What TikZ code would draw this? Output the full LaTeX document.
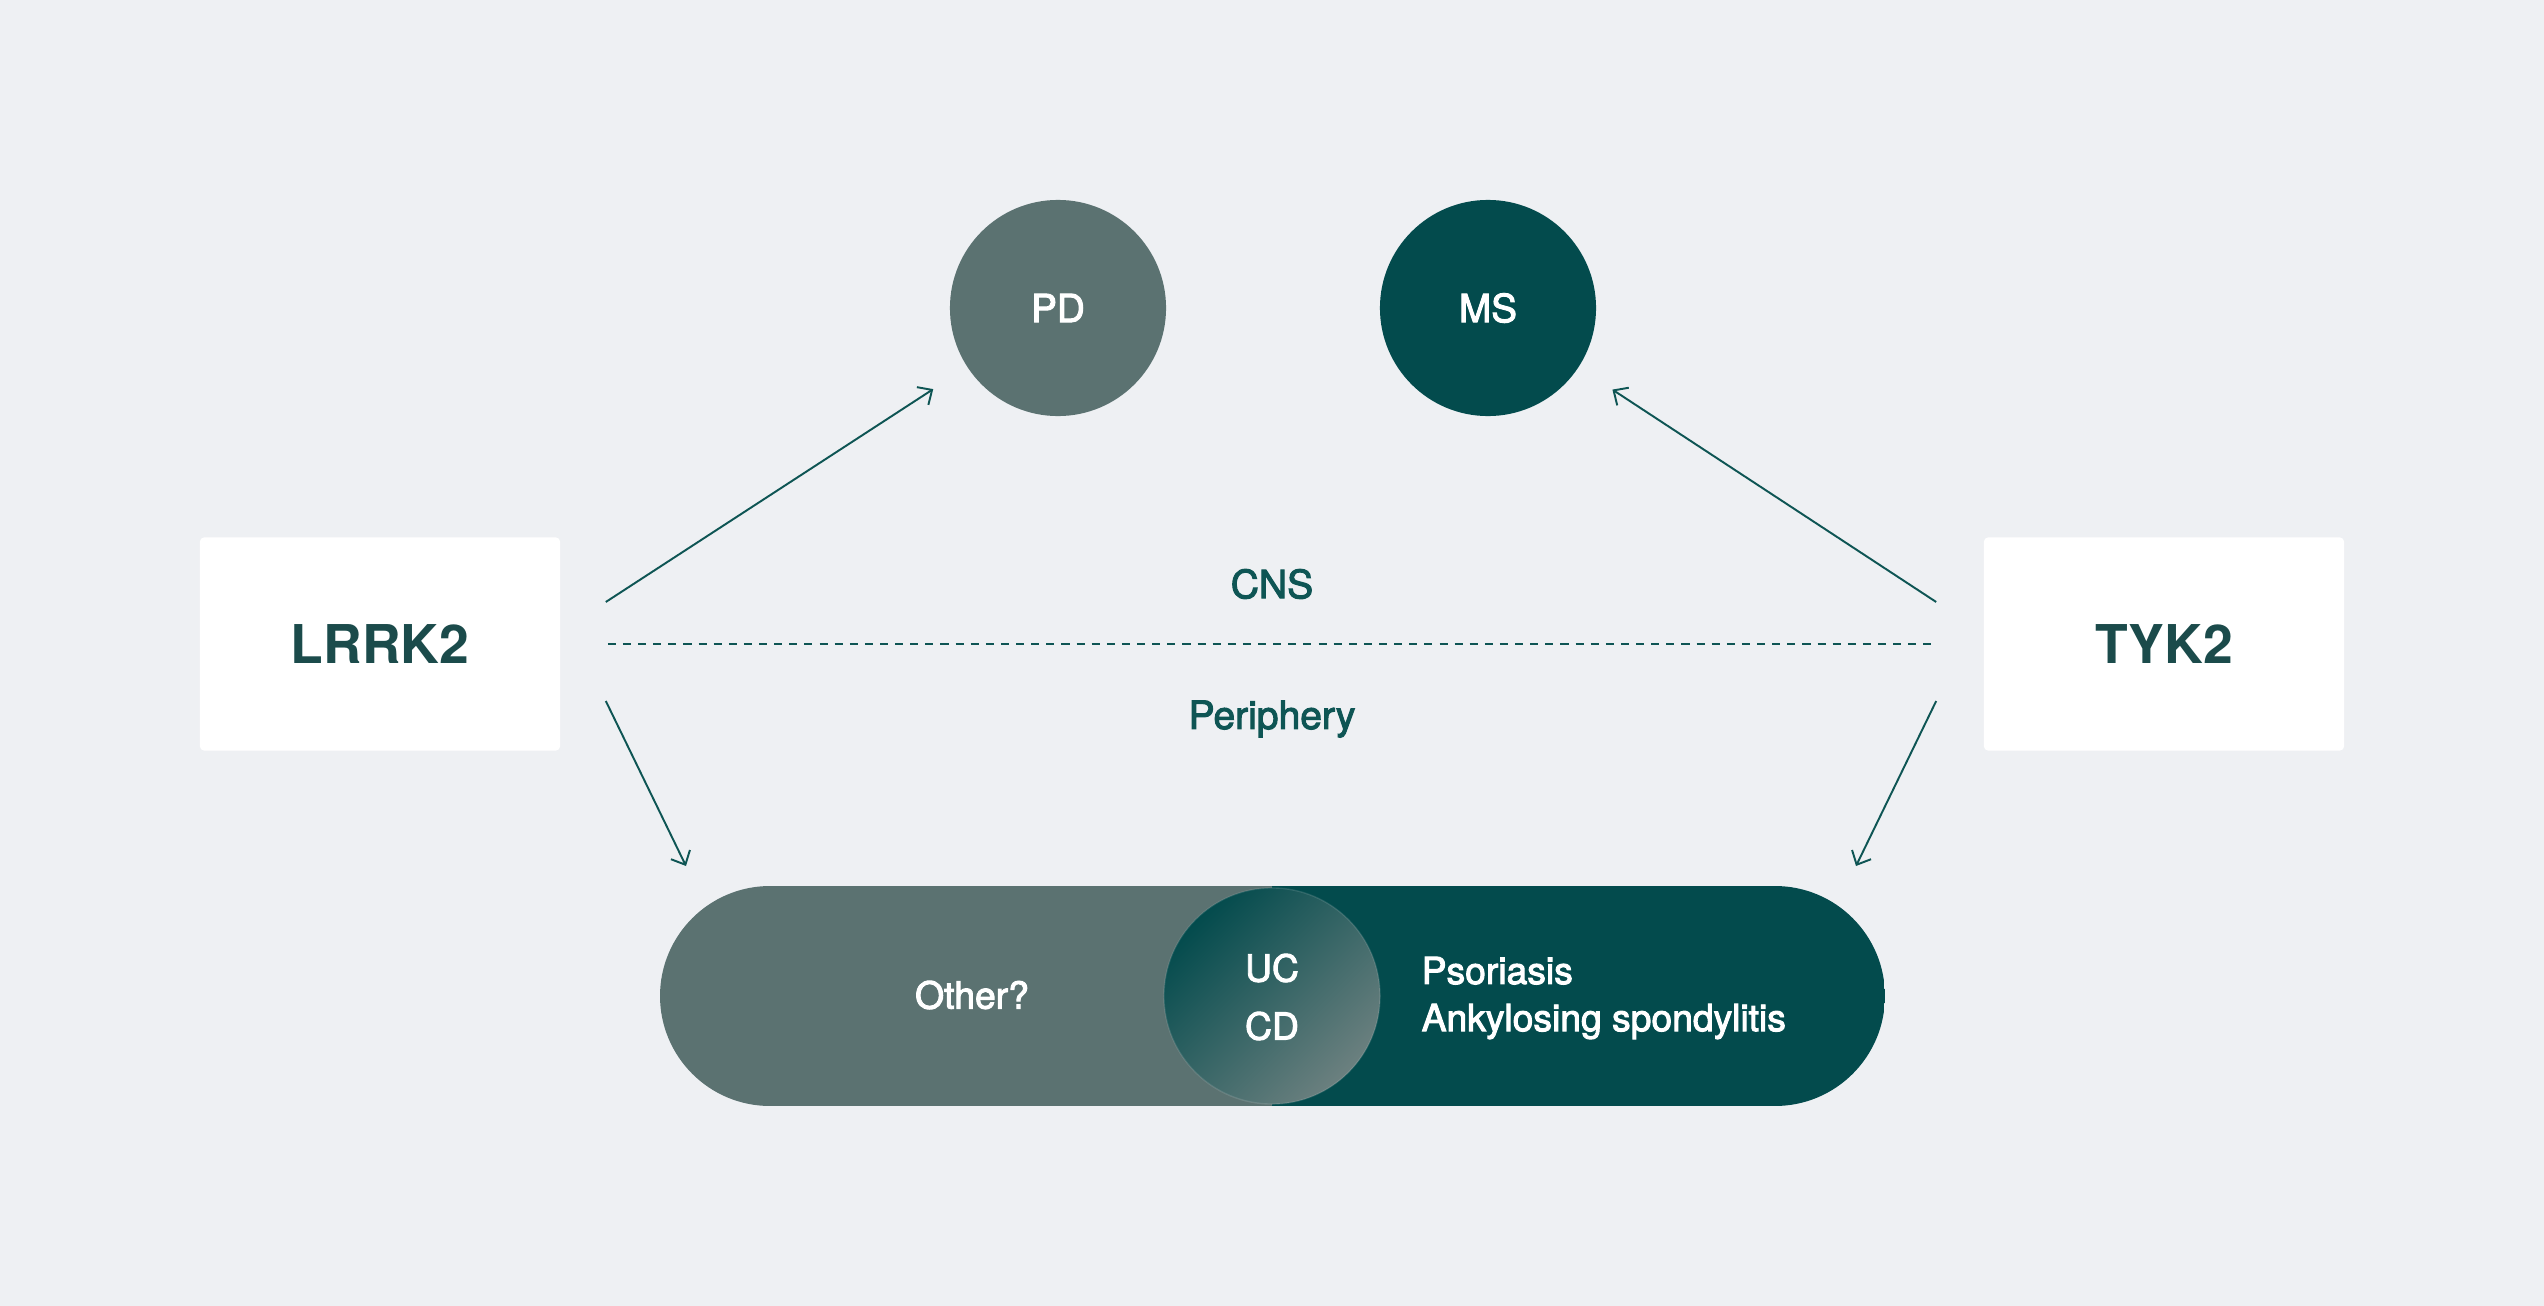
\documentclass[tikz,border=0pt]{standalone}
\usepackage{fontspec}
\setmainfont{TeX Gyre Heros}
\newfontfamily\midfont{TeX Gyre Heros}[FakeBold=2.6]
\usepackage{tikz}
\usetikzlibrary{calc,arrows.meta}
\definecolor{pagebg}{HTML}{EEF0F3}
\definecolor{slate}{HTML}{5B7271}
\definecolor{deepteal}{HTML}{034B4D}
\definecolor{inkteal}{HTML}{1B4B4B}
\definecolor{lineteal}{HTML}{0E5554}
\tikzset{gene/.style={fill=white,rounded corners=1.2pt,minimum width=3.6cm,minimum height=2.13cm,inner sep=0pt,font=\fontsize{15.2}{18}\selectfont\bfseries,text=inkteal},
  dz/.style={circle,minimum size=2.16cm,inner sep=0pt,text=white,font=\fontsize{11}{13}\selectfont\midfont},
  zone/.style={text=lineteal,inner sep=0pt,font=\fontsize{11.1}{13}\selectfont\midfont},
  pilltxt/.style={text=white,inner sep=0pt,font=\fontsize{10.6}{13.4}\selectfont\midfont},
  lnk/.style={lineteal,line width=0.55pt,-{Straight Barb[length=3.2pt,width=6pt]}}}
\begin{document}
\begin{tikzpicture}[x=0.01cm,y=-0.01cm]
\fill[pagebg] (0,0) rectangle (2544,1306);
\node[gene] (lrrk) at (380,644) {LRRK2};
\node[gene] (tyk) at (2164,644) {TYK2};
\node[dz,fill=slate] (pd) at (1058,308) {PD};
\node[dz,fill=deepteal] (ms) at (1488,308) {MS};
\begin{scope}
\clip[rounded corners=1.1cm] (660,886) rectangle (1885,1106);
\fill[slate] (660,886) rectangle (1272,1106);
\fill[deepteal] (1272,886) rectangle (1885,1106);
\end{scope}
\shade[left color=deepteal,right color=slate!90!white,shading angle=45] (1272,996) circle (1.08cm);
\draw[white,opacity=0.12,line width=0.4pt] (1272,996) circle (1.08cm);
\node[pilltxt] (other) at (972,995) {Other?};
\node[pilltxt] (uc) at (1272,968) {UC};
\node[pilltxt] (cd) at (1272,1026) {CD};
\node[pilltxt,anchor=west,align=left] (ext) at (1421,998) {Psoriasis\\Ankylosing spondylitis};
\node[zone] (cns) at (1272,584) {CNS};
\node[zone] (peri) at (1272,719) {Periphery};
\coordinate (la) at ($(lrrk.east)+(45,-42)$);
\coordinate (lb) at ($(lrrk.east)+(45,57)$);
\coordinate (ta) at ($(tyk.west)+(-47,-42)$);
\coordinate (tb) at ($(tyk.west)+(-47,57)$);
\coordinate (lp) at (686,866);
\coordinate (tp) at (1856,866);
\draw[lnk,shorten >=0.4cm] (la) -- (pd);
\draw[lnk,shorten >=0.4cm] (ta) -- (ms);
\draw[lnk] (lb) -- (lp);
\draw[lnk] (tb) -- (tp);
\draw[lineteal,line width=0.45pt,dash pattern=on 2.3pt off 2pt] ($(lrrk.east)+(47,0)$) -- ($(tyk.west)+(-46,0)$);
\end{tikzpicture}
\end{document}
